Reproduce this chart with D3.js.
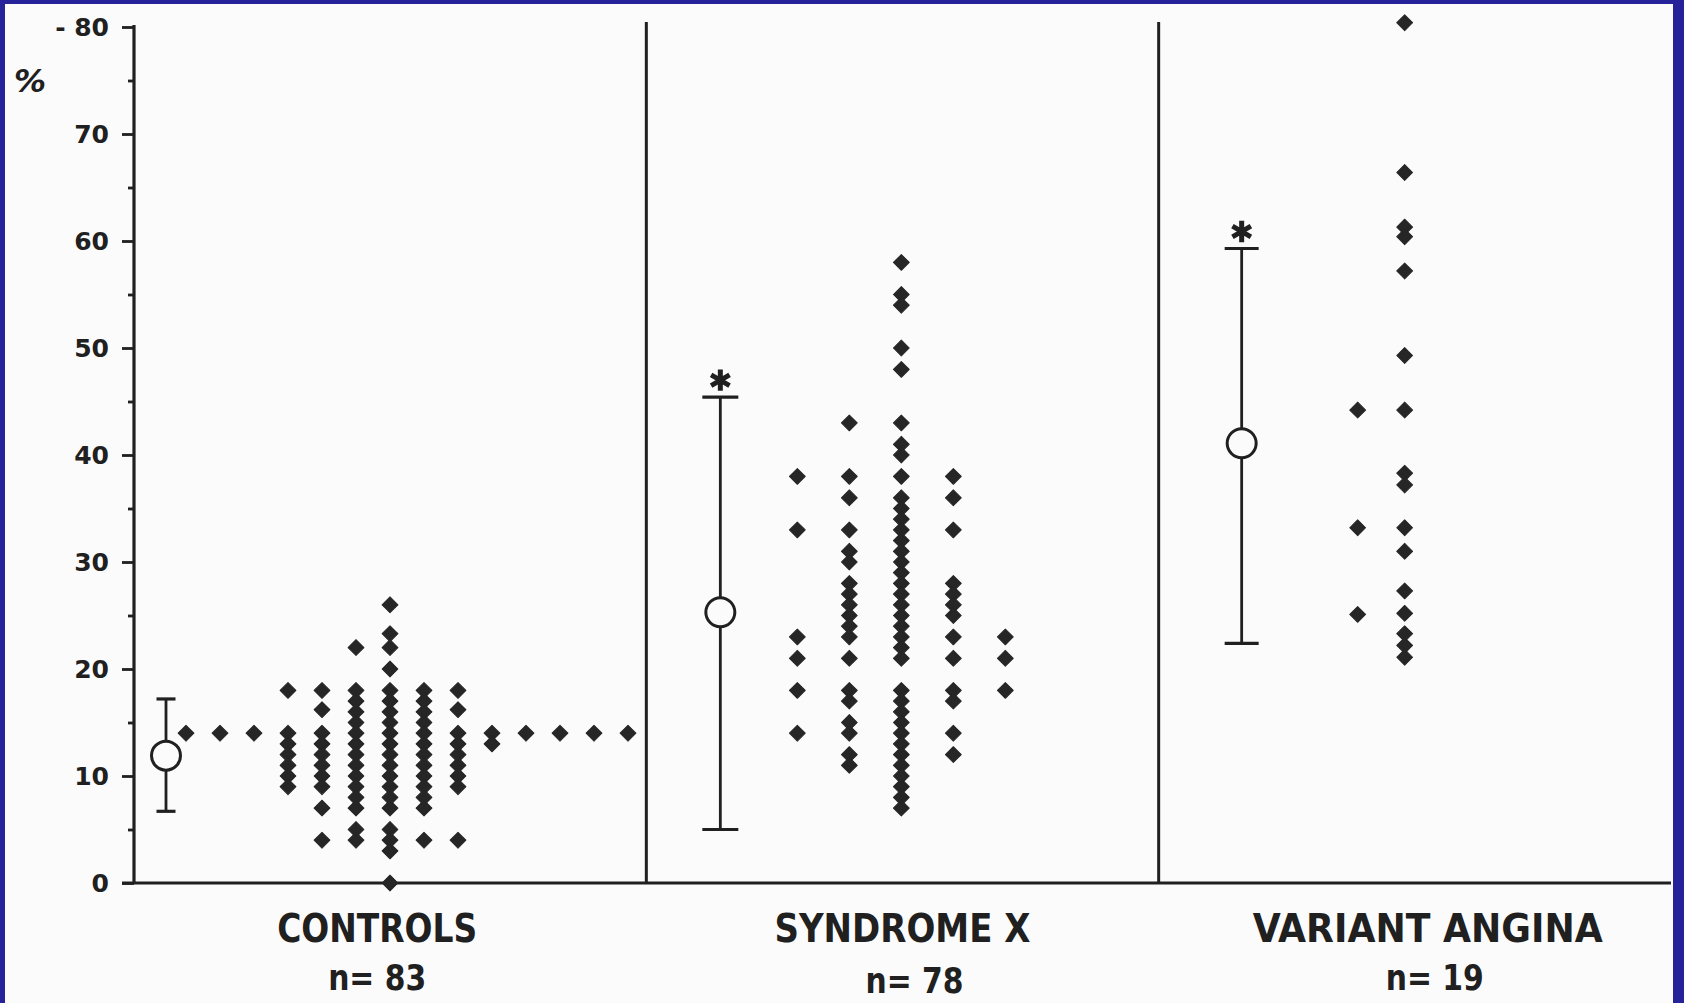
<!DOCTYPE html>
<html>
<head>
<meta charset="utf-8">
<script src="https://cdn.jsdelivr.net/npm/d3@7/dist/d3.min.js"></script>
<style>
  html, body { margin: 0; padding: 0; background: #26229a; }
  svg { display: block; }
</style>
</head>
<body>
<svg id="chart" width="1684" height="1003"></svg>
<script>
// ---------------- DATA ----------------
const categories   = ["CONTROLS", "SYNDROME X", "VARIANT ANGINA"];
const sampleSizes  = [83, 78, 19];
const means        = [11.9, 25.3, 41.1];
const upperBars    = [17.2, 45.4, 59.3];
const lowerBars    = [6.7, 5.0, 22.4];
const significant  = [false, true, true];

const yMajorTicks  = [0, 10, 20, 30, 40, 50, 60, 70, 80];
const yTickLabels  = ["0", "10", "20", "30", "40", "50", "60", "70", "- 80"];
const yMinorTicks  = [5, 15, 25, 35, 45, 55, 65, 75];
const yUnitLabel   = "%";

// dot columns: [column index, values (%)]
const controlsColumns = [
  [-6, [14]], [-5, [14]], [-4, [14]],
  [-3, [18, 14, 13, 12, 11, 10, 9]],
  [-2, [18, 16.2, 14, 13, 12, 11, 10, 9, 7, 4]],
  [-1, [22, 18, 17, 16, 15, 14, 13, 12, 11, 10, 9, 8, 7, 5, 4]],
  [0,  [26, 23.3, 22, 20, 18, 17, 16, 15, 14, 13, 12, 11, 10, 9, 8, 7, 5, 4, 3, 0]],
  [1,  [18, 17, 16, 15, 14, 13, 12, 11, 10, 9, 8, 7, 4]],
  [2,  [18, 16.2, 14, 13, 12, 11, 10, 9, 4]],
  [3, [14, 13]], [4, [14]], [5, [14]], [6, [14]], [7, [14]]
];
const syndromeXColumns = [
  [-2, [38, 33, 23, 21, 18, 14]],
  [-1, [43, 38, 36, 33, 31, 30, 28, 27, 26, 25, 24, 23, 21, 18, 17, 15, 14, 12, 11]],
  [0,  [58, 55, 54, 50, 48, 43, 41, 40, 38,
        36, 35, 34, 33, 32, 31, 30, 29, 28, 27, 26, 25, 24, 23, 22, 21,
        18, 17, 16, 15, 14, 13, 12, 11, 10, 9, 8, 7]],
  [1,  [38, 36, 33, 28, 27, 26, 25, 23, 21, 18, 17, 14, 12]],
  [2,  [23, 21, 18]]
];
const variantAnginaColumns = [
  [0, [44.2, 33.2, 25.1]],
  [1, [80.4, 66.4, 61.3, 60.4, 57.2, 49.3, 44.2, 38.3, 37.2, 33.2, 31.0, 27.3, 25.2, 23.3, 22.2, 21.1]]
];
const groupColumns = [controlsColumns, syndromeXColumns, variantAnginaColumns];

// ---------------- LAYOUT ----------------
const W = 1684, H = 1003;
const axisX = 134, plotRight = 1671;
const ink = "#202020";
const dotInk = "#262626";

// per-group placement inside its band (layout, not data)
const errOffset  = [32, 74, 83];     // px from band start
const dotOrigin  = [256, 255, 199];  // px from band start for column 0
const dotStep    = [34, 52, 47];     // px between dot columns
const capHalf    = [9.5, 18, 17];
const labelDx    = [-13, 0, 13];
const nLabelDx   = [-13, 12, 20];

const svg = d3.select("#chart");

svg.append("rect").attr("x", 5).attr("y", 4).attr("width", 1668).attr("height", H - 4)
   .attr("fill", "#fbfbfb");

const y = d3.scaleLinear().domain([0, 80]).range([883, 27]);
const x = d3.scaleBand().domain(categories).range([axisX, plotRight]).padding(0);

// y axis (major)
const yAxis = d3.axisLeft(y)
  .tickValues(yMajorTicks)
  .tickSize(12)
  .tickSizeOuter(0)
  .tickPadding(13)
  .tickFormat((d, i) => yTickLabels[i]);
const gy = svg.append("g").attr("transform", `translate(${axisX},0)`).call(yAxis);
gy.select(".domain").attr("stroke", ink).attr("stroke-width", 3.2)
  .attr("d", `M0,${y(0)}V${y(80) - 2}`);
gy.selectAll(".tick line").attr("stroke", ink).attr("stroke-width", 2.8);
gy.selectAll(".tick text")
  .attr("fill", ink)
  .style("font-family", "'DejaVu Sans', sans-serif")
  .style("font-weight", "bold")
  .style("font-size", "25px");

// y axis (minor)
const yMinor = d3.axisLeft(y).tickValues(yMinorTicks).tickSize(6).tickSizeOuter(0).tickFormat("");
const gym = svg.append("g").attr("transform", `translate(${axisX},0)`).call(yMinor);
gym.select(".domain").remove();
gym.selectAll(".tick line").attr("stroke", ink).attr("stroke-width", 2.8);

// unit label
svg.append("text").attr("x", 14).attr("y", 92).text(yUnitLabel)
  .attr("fill", ink)
  .style("font-family", "'DejaVu Sans', sans-serif")
  .style("font-style", "italic")
  .style("font-weight", "bold")
  .style("font-size", "32px");

// baseline
svg.append("line").attr("x1", axisX - 12).attr("x2", plotRight)
  .attr("y1", y(0)).attr("y2", y(0)).attr("stroke", ink).attr("stroke-width", 3.2);

// separators between groups
categories.slice(1).forEach(c => {
  svg.append("line").attr("x1", x(c)).attr("x2", x(c))
    .attr("y1", y(0)).attr("y2", y(80) - 5)
    .attr("stroke", ink).attr("stroke-width", 3);
});

// dots
const diamond = d3.symbol().type(d3.symbolSquare).size(125);
categories.forEach((c, gi) => {
  const colX = d3.scaleLinear().domain([0, 1])
    .range([x(c) + dotOrigin[gi], x(c) + dotOrigin[gi] + dotStep[gi]]);
  const pts = [];
  groupColumns[gi].forEach(([col, vals]) => vals.forEach(v => pts.push({col, v})));
  svg.append("g").selectAll("path").data(pts).join("path")
    .attr("d", diamond)
    .attr("transform", d => `translate(${colX(d.col)},${y(d.v)}) rotate(45)`)
    .attr("fill", dotInk)
    .attr("stroke", dotInk).attr("stroke-width", 1).attr("stroke-linejoin", "round");
});

// error bars, means, significance stars
categories.forEach((c, gi) => {
  const ex = x(c) + errOffset[gi];
  const g = svg.append("g").attr("stroke", ink).attr("stroke-width", 2.8).attr("fill", "none");
  g.append("line").attr("x1", ex).attr("x2", ex).attr("y1", y(upperBars[gi])).attr("y2", y(lowerBars[gi]));
  [upperBars[gi], lowerBars[gi]].forEach(v => {
    g.append("line").attr("x1", ex - capHalf[gi]).attr("x2", ex + capHalf[gi])
      .attr("y1", y(v)).attr("y2", y(v)).attr("stroke-width", 3.2);
  });
  g.append("circle").attr("cx", ex).attr("cy", y(means[gi])).attr("r", 14.5)
    .attr("fill", "#fbfbfb").attr("stroke-width", 3);
  if (significant[gi]) {
    svg.append("path")
      .attr("d", d3.symbol().type(d3.symbolAsterisk).size(320)())
      .attr("transform", `translate(${ex},${y(upperBars[gi]) - 17})`)
      .attr("fill", "none").attr("stroke", ink).attr("stroke-width", 5);
  }
});

// category labels
const catFont = "'Liberation Sans Narrow', 'DejaVu Sans Condensed', sans-serif";
const catWidths = [200, 256, 350];
categories.forEach((c, gi) => {
  const cx = x(c) + x.bandwidth() / 2 + labelDx[gi];
  svg.append("text")
    .attr("x", cx).attr("y", 942)
    .attr("text-anchor", "middle")
    .attr("textLength", catWidths[gi]).attr("lengthAdjust", "spacingAndGlyphs")
    .attr("fill", ink)
    .style("font-family", catFont).style("font-weight", "bold").style("font-size", "39px")
    .text(c);
  svg.append("text")
    .attr("x", x(c) + x.bandwidth() / 2 + nLabelDx[gi]).attr("y", gi === 1 ? 993 : 990)
    .attr("text-anchor", "middle")
    .attr("textLength", 98).attr("lengthAdjust", "spacingAndGlyphs")
    .attr("fill", ink)
    .style("font-family", catFont).style("font-weight", "bold").style("font-size", "36px")
    .text("n= " + sampleSizes[gi]);
});
</script>
</body>
</html>
